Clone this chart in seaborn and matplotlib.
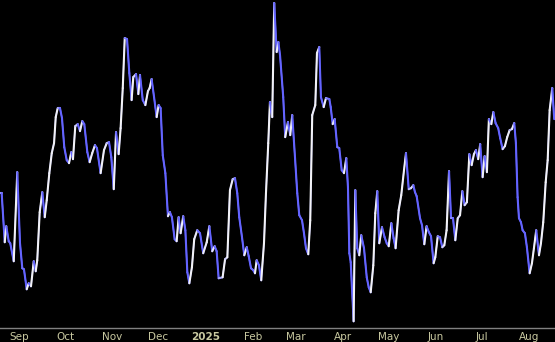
import numpy as np
import pandas as pd
import matplotlib
matplotlib.use("Agg")
import matplotlib.pyplot as plt
import seaborn as sns
from matplotlib.collections import LineCollection
import matplotlib.dates as mdates
from matplotlib.colors import to_rgb

# ---- data ----
START = pd.Timestamp("2024-08-19 08:40")
END_DAYS = 363.5

day_offsets = [
    0.0, 1.1, 3.1, 4.1, 5.7, 6.7, 9.0, 11.3, 13.1, 14.6,
    15.7, 17.5, 18.8, 20.3, 22.1, 23.4, 24.4, 26.0, 27.7, 29.3,
    30.6, 32.3, 33.9, 35.4, 36.5, 37.8, 39.3, 40.6, 42.1, 43.7,
    45.2, 46.7, 47.8, 49.3, 50.9, 52.4, 53.9, 55.2, 57.2, 58.7,
    60.4, 62.2, 63.5, 65.9, 68.1, 69.9, 71.4, 72.9, 74.5, 76.0,
    77.7, 79.0, 80.4, 81.7, 83.2, 84.7, 86.2, 87.3, 89.1, 90.6,
    91.7,
    93.5, 95.2, 96.9, 98.0, 99.3, 100.9, 102.6, 103.9, 105.2, 106.6,
    108.3, 110.0, 111.3, 112.6, 114.4, 115.7, 117.0, 118.3, 120.0, 121.4,
    122.7, 124.0, 125.7, 127.2, 129.2, 131.0, 133.1, 135.4, 137.1, 139.0,
    140.6, 141.9, 143.2, 145.8, 147.4, 148.9, 150.6, 152.4, 153.9, 155.4,
    156.7, 158.5, 160.0, 161.6, 162.9, 164.4, 165.9, 167.0, 168.1, 169.6,
    171.1, 172.9, 174.2, 175.7, 176.8, 178.3, 179.6, 181.2, 182.3, 183.4,
    185.5, 186.8, 188.6, 190.1, 191.4, 193.2, 194.7, 196.0, 197.8, 199.1,
    200.4, 201.9, 203.2, 204.5, 206.5, 207.6, 209.1, 210.2, 212.0, 213.5,
    215.7, 216.6, 217.9, 219.2, 220.9, 222.2, 223.8, 225.3, 226.8, 227.9,
    228.8, 229.7, 231.6, 232.7, 234.0, 235.3, 236.6, 238.4, 240.2, 241.5,
    242.8, 244.5, 245.8, 247.1, 248.4, 250.2, 251.9, 253.3, 254.6, 256.3,
    257.8, 259.1, 261.1, 262.8, 264.6, 265.9, 267.7, 269.2, 270.7, 271.8,
    272.9,
    275.1, 276.4, 277.9, 279.4, 280.9, 282.3, 284.0, 285.1, 286.7, 288.2,
    289.7, 291.0, 292.5, 294.1, 295.4, 296.7, 298.2, 299.8, 301.3, 302.8,
    304.3, 305.8, 307.4, 308.9, 310.4, 311.7, 313.2, 314.5, 316.1, 317.4,
    318.9, 320.2, 321.8, 323.1, 324.6, 326.3, 327.6, 329.2, 330.7, 332.2,
    333.8, 335.3, 336.8, 337.9, 339.0, 339.9, 341.2, 342.3, 343.8, 345.1,
    346.9, 348.4, 349.7, 351.2, 353.0, 354.3, 355.8, 357.4, 358.7, 360.0,
    361.7, 363.0,
]

# heights read as pixel rows (top = 0); value = 328 - row
pixel_rows = [
    193, 193, 242, 226, 241, 243, 261, 172, 243, 268,
    269, 289, 283, 286, 261, 271, 260, 212, 192, 217,
    200, 173, 153, 143, 117, 108, 108, 118, 147, 160,
    163, 152, 159, 126, 124, 131, 121, 124, 152, 162,
    153, 145, 148, 173, 150, 143, 142, 157, 189, 132,
    154, 128, 88, 38, 39, 73, 100, 77, 74, 94,
    75,
    100, 105, 91, 88, 79, 97, 117, 105, 108, 155,
    173, 216, 212, 217, 239, 241, 217, 233, 216, 230,
    272, 283, 267, 239, 230, 233, 253, 242, 226, 251,
    246, 251, 278, 277, 259, 257, 190, 179, 178, 193,
    217, 237, 255, 247, 256, 268, 270, 273, 260, 265,
    280, 243, 193, 143, 102, 117, 3, 52, 42, 55,
    97, 137, 122, 135, 115, 157, 193, 215, 220, 233,
    248, 254, 220, 115, 105, 53, 47, 97, 107, 98,
    99, 107, 124, 119, 147, 148, 170, 173, 158, 187,
    253, 262, 321, 190, 248, 255, 235, 248, 277, 287,
    292, 265, 213, 191, 243, 227, 237, 243, 246, 223,
    238, 248, 210, 195, 170, 153, 189, 188, 185, 192,
    196,
    218, 225, 244, 226, 232, 236, 263, 257, 236, 237,
    247, 245, 230, 171, 218, 218, 240, 218, 215, 191,
    205, 202, 154, 165, 154, 150, 159, 144, 177, 156,
    172, 119, 124, 112, 123, 128, 138, 149, 146, 137,
    130, 129, 123, 143, 197, 218, 222, 230, 233, 247,
    273, 263, 248, 230, 255, 243, 222, 182, 160, 110,
    88, 119,
]
values = [328 - r for r in pixel_rows]

month_ticks = ["2024-09-01", "2024-10-01", "2024-11-01", "2024-12-01",
               "2025-01-01", "2025-02-01", "2025-03-01", "2025-04-01",
               "2025-05-01", "2025-06-01", "2025-07-01", "2025-08-01"]
month_labels = ["Sep", "Oct", "Nov", "Dec", "2025", "Feb", "Mar", "Apr",
                "May", "Jun", "Jul", "Aug"]

# ---- style ----
BLUE = "#6464ff"
WHITE = "#f2f2f6"
LABEL = "#c8c8a0"
AXIS = "#808080"

sns.set_theme(style="dark", rc={
    "axes.facecolor": "black",
    "figure.facecolor": "black",
    "axes.grid": False,
})
plt.rcParams["font.family"] = ["DejaVu Sans"]

dates = START + pd.to_timedelta(day_offsets, unit="D")
df = pd.DataFrame({"date": dates, "value": values})

fig = plt.figure(figsize=(5.55, 3.42), dpi=100, facecolor="black")
ax = fig.add_axes([0, 0.04, 1, 0.96])
ax.set_facecolor("black")

# base line (hidden under the lit overlay)
sns.lineplot(data=df, x="date", y="value", ax=ax, color=BLUE,
             linewidth=1.0, sort=False, legend=False)

ax.set_xlim(START, START + pd.Timedelta(days=END_DAYS))
ax.set_ylim(0, 328)

# direction-lit overlay: rising = white, falling = blue
xnum = mdates.date2num(df["date"].dt.to_pydatetime())
pts = np.column_stack([xnum, df["value"].to_numpy(dtype=float)])
disp = ax.transData.transform(pts)
d = np.diff(disp, axis=0)
ang = np.arctan2(d[:, 1], d[:, 0])
t = (np.sin(ang) + 1) / 2
t = np.clip(t, 0, 1) ** 1.6
b = np.array(to_rgb(BLUE))
w = np.array(to_rgb(WHITE))
cols = b[None, :] + (w - b)[None, :] * t[:, None]
segs = np.stack([pts[:-1], pts[1:]], axis=1)
lc = LineCollection(segs, colors=cols, linewidths=1.5, capstyle="round",
                    joinstyle="round", zorder=3)
ax.add_collection(lc)

# axes decoration
for s in ["top", "left", "right"]:
    ax.spines[s].set_visible(False)
ax.spines["bottom"].set_visible(True)
ax.spines["bottom"].set_color(AXIS)
ax.spines["bottom"].set_linewidth(1.0)
ax.set_yticks([])
ax.set_xlabel("")
ax.set_ylabel("")
ax.set_xticks(pd.to_datetime(month_ticks))
ax.set_xticklabels(month_labels)
ax.tick_params(axis="x", colors=AXIS, labelcolor=LABEL, labelsize=7.5,
               length=2, width=0.8, direction="in", pad=2.5)
for lbl in ax.get_xticklabels():
    if lbl.get_text() == "2025":
        lbl.set_fontweight("bold")

fig.savefig("out.png", dpi=100, facecolor="black")
